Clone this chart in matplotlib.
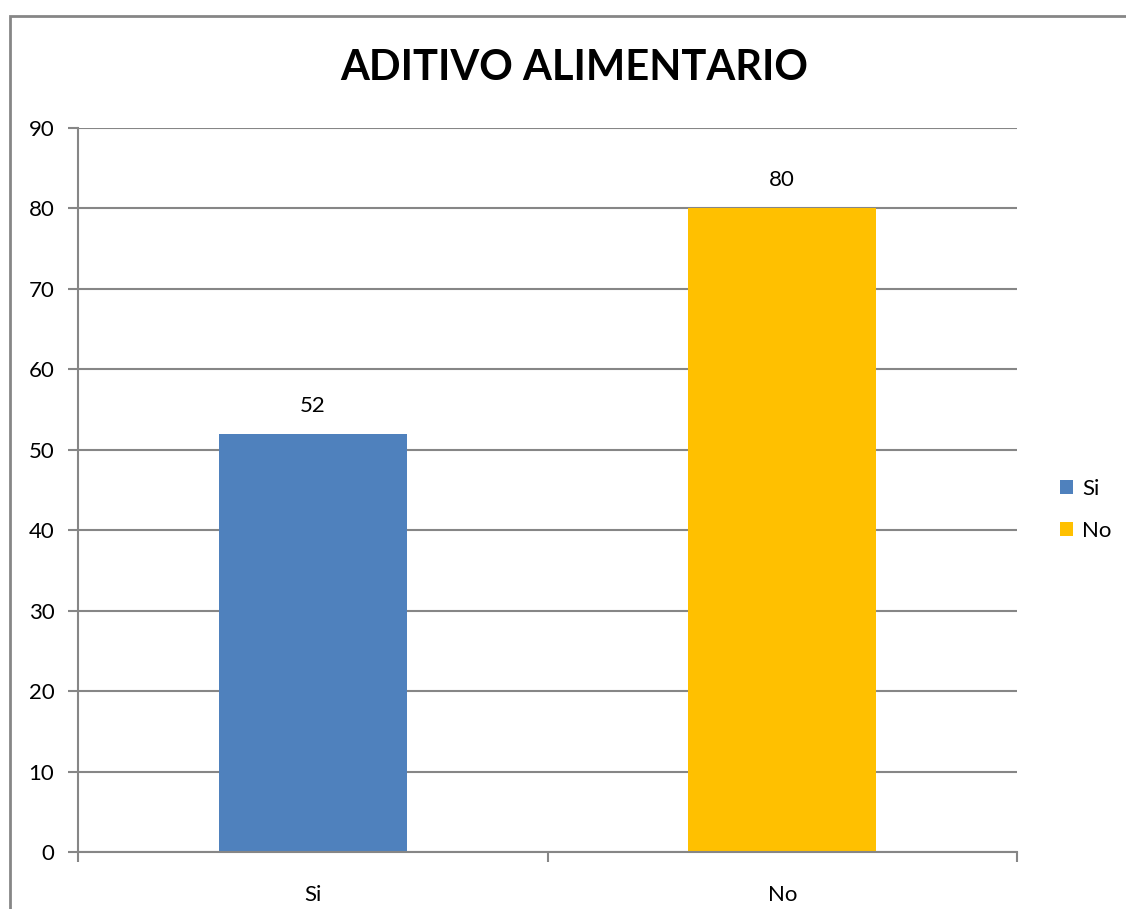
import matplotlib
matplotlib.use("Agg")
import matplotlib.pyplot as plt
from matplotlib.patches import Rectangle, Patch

# datos de la encuesta
categorias = ["Si", "No"]
valores = [52, 80]
colores = ["#4F81BD", "#FFC000"]
y_ticks = [0, 10, 20, 30, 40, 50, 60, 70, 80, 90]
titulo = "ADITIVO ALIMENTARIO"

GRIS = "#868686"

plt.rcParams['font.family'] = ['Lato', 'DejaVu Sans']

fig = plt.figure(figsize=(11.26, 9.09), dpi=100)
ax = fig.add_axes([78 / 1126, 1 - 852 / 909, (1017 - 78) / 1126, (852 - 128) / 909])

x = list(range(len(categorias)))
barras = ax.bar(x, valores, width=0.4, color=colores, zorder=3)
for xi, v in zip(x, valores):
    ax.annotate(str(v), (xi, v), xytext=(0, 13), textcoords="offset points",
                ha="center", va="bottom", fontsize=16, color="black")

ax.set_xlim(-0.5, len(categorias) - 0.5)
ax.set_ylim(0, 90)
ax.set_yticks(y_ticks)
ax.set_xticks(x)
ax.set_xticklabels(categorias, fontsize=16)
ax.set_xticks([-0.5, 0.5, 1.5], minor=True)
ax.tick_params(axis="x", which="major", length=0, pad=24)
ax.tick_params(axis="x", which="minor", length=7, color=GRIS, width=1.5)
ax.tick_params(axis="y", length=7, color=GRIS, width=1.5, labelsize=16, pad=10)

ax.grid(axis="y", color=GRIS, linewidth=1.5, zorder=0)
for lado in ["top", "right"]:
    ax.spines[lado].set_visible(False)
for lado in ["left", "bottom"]:
    ax.spines[lado].set_color(GRIS)
    ax.spines[lado].set_linewidth(1.5)
    ax.spines[lado].set_zorder(4)

fig.text(574 / 1126, 1 - 68 / 909, titulo, ha="center", va="center",
         fontsize=30, fontweight="bold")

handles = [Patch(facecolor=c, label=cat) for c, cat in zip(colores, categorias)]
fig.legend(handles=handles, loc="center left", bbox_to_anchor=(1040 / 1126, 1 - 510 / 909),
           frameon=False, fontsize=16, handlelength=0.6, handleheight=0.6,
           handletextpad=0.4, labelspacing=1.0)

# marco exterior del grafico
fig.patches.append(Rectangle((10 / 1126, -0.1), 1.2, (909 - 16) / 909 + 0.1,
                             transform=fig.transFigure, fill=False,
                             edgecolor=GRIS, linewidth=2))

fig.savefig("out.png", dpi=100)
